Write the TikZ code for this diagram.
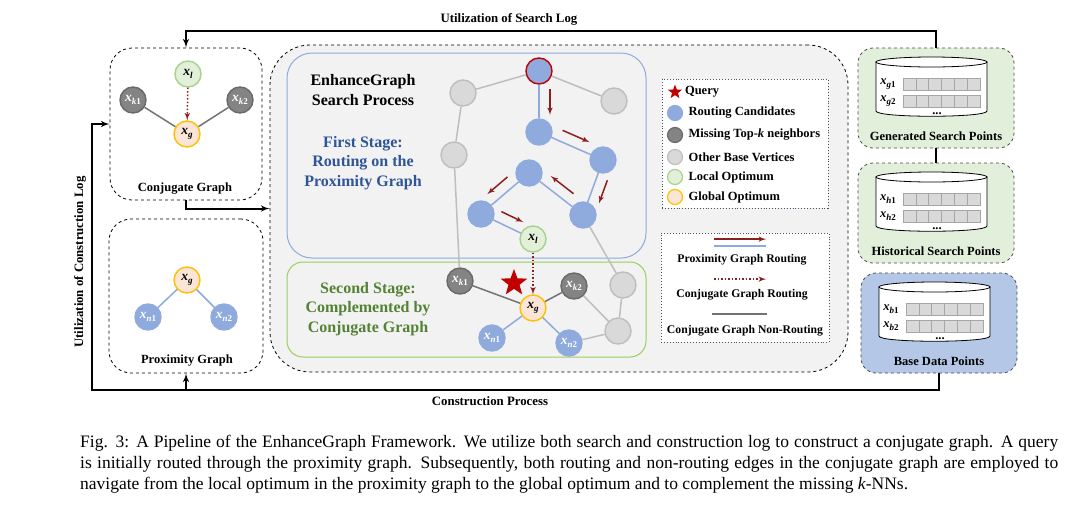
\documentclass[tikz,border=0pt]{standalone}
\usepackage{fontspec}
\setmainfont{Liberation Serif}
\usetikzlibrary{positioning,arrows,calc,shapes.geometric}

\definecolor{candblue}{RGB}{143,170,220}
\definecolor{missgray}{RGB}{132,132,132}
\definecolor{missline}{RGB}{105,105,105}
\definecolor{basegray}{RGB}{217,217,217}
\definecolor{baseedge}{RGB}{190,190,190}
\definecolor{locfill}{RGB}{226,240,217}
\definecolor{locline}{RGB}{169,209,142}
\definecolor{globfill}{RGB}{251,229,214}
\definecolor{globline}{RGB}{255,192,0}
\definecolor{routered}{RGB}{140,30,30}
\definecolor{starred}{RGB}{192,0,0}
\definecolor{stageblue}{RGB}{47,85,151}
\definecolor{stagegreen}{RGB}{84,130,53}
\definecolor{boxgreen}{RGB}{150,208,90}
\definecolor{panelgray}{RGB}{242,242,242}
\definecolor{genfill}{RGB}{226,239,218}
\definecolor{basefill}{RGB}{180,199,231}
\definecolor{legline}{RGB}{68,84,106}

\newcommand{\vx}[2]{{\bfseries\itshape x\raisebox{-.5ex}{\fontsize{9}{10}\selectfont #1\upshape #2}}}
\newcommand{\route}[3]{\draw[route] ($(#1)!0.3!(#2)!11pt!#3:(#2)$) -- ($(#1)!0.72!(#2)!11pt!#3:(#2)$);}

\begin{document}
\begin{tikzpicture}[x=1pt,y=-1pt,>=latex',
  font=\bfseries\fontsize{12.5}{14}\selectfont,
  vtx/.style={circle,minimum size=26pt,inner sep=0pt,line width=1.4pt,font=\fontsize{13.5}{14}\selectfont},
  cand/.style={vtx,fill=candblue,draw=candblue,text=white},
  miss/.style={vtx,fill=missgray,draw=missline,text=white},
  basev/.style={vtx,fill=basegray,draw=baseedge},
  loc/.style={vtx,fill=locfill,draw=locline},
  glob/.style={vtx,fill=globfill,draw=globline},
  keydot/.style={circle,minimum size=15pt,inner sep=0pt,line width=1.2pt},
  dbox/.style={draw,dashed,rounded corners=22pt,line width=.8pt,minimum width=152pt,minimum height=152pt},
  store/.style={draw=black!70,dashed,rounded corners=15pt,line width=.8pt,minimum width=156pt,minimum height=100pt},
  heading/.style={align=center,font=\bfseries\fontsize{16}{19.5}\selectfont},
  railtext/.style={font=\bfseries\fontsize{12.8}{14}\selectfont},
  keytext/.style={font=\bfseries\fontsize{11.7}{13}\selectfont},
  conn/.style={line width=2pt},
  blueedge/.style={draw=candblue,line width=1.5pt},
  grayedge/.style={draw=baseedge,line width=1.5pt},
  nonroute/.style={draw=black!55,line width=1.5pt},
  route/.style={draw=routered,line width=1.5pt,->},
  conjroute/.style={draw=routered,line width=1.5pt,dotted,->},
  cell/.style={fill=basegray,draw=black!35,line width=.6pt},
  caption/.style={anchor=base west,inner sep=0pt,align=left,font=\mdseries\fontsize{17.5}{21}\selectfont}]

\path[use as bounding box,fill=white] (0,0) rectangle (1073,504);

% left boxes
\node[dbox] (conj) at (186,124) {};
\node (conjlbl) at (185,189) {Conjugate Graph};
\node[loc] (cl) at (188,74) {\vx{l}{}};
\node[miss] (ck1) at (133,100) {\vx{k}{1}};
\node[miss] (ck2) at (240,100) {\vx{k}{2}};
\node[glob] (cg) at (187,134) {\vx{g}{}};
\path[nonroute] (ck1) edge (cg) (ck2) edge (cg);
\draw[conjroute] (cl) -- (cg);

\node[dbox,minimum width=154pt,minimum height=154pt] (prox) at (186,296) {};
\node (proxlbl) at (187,361) {Proximity Graph};
\node[glob] (pg) at (187,280) {\vx{g}{}};
\node[cand] (pn1) at (148,317) {\vx{n}{1}};
\node[cand] (pn2) at (224,317) {\vx{n}{2}};
\path[blueedge] (pg) edge (pn1) edge (pn2);

% search process
\node[draw,dashed,fill=panelgray,rounded corners=40pt,line width=.8pt,minimum width=578pt,minimum height=327pt] (main) at (559,208.5) {};
\node[draw=candblue,rounded corners=25pt,line width=1pt,minimum width=359pt,minimum height=205pt] (stageone) at (466.5,155.5) {};
\node[draw=boxgreen,rounded corners=16pt,line width=1pt,minimum width=359pt,minimum height=95pt] (stagetwo) at (466.5,309.5) {};
\node[heading] (head) at (363,90) {EnhanceGraph\\Search Process};
\node[heading,text=stageblue] (onetxt) at (363,163) {First Stage:\\Routing on the\\Proximity Graph};
\node[heading,text=stagegreen] (twotxt) at (368,309) {Second Stage:\\Complemented by\\Conjugate Graph};

\node[cand,draw=starred] (top) at (539,71) {};
\node[basev] (g1) at (463,93) {};
\node[basev] (g2) at (614,101) {};
\node[basev] (g3) at (454,155) {};
\node[basev] (g4) at (623,285) {};
\node[basev] (g5) at (618,331) {};
\node[cand] (b1) at (539,132) {};
\node[cand] (b2) at (603,160) {};
\node[cand] (b3) at (529,173) {};
\node[cand] (b4) at (481,214) {};
\node[cand] (b5) at (583,215) {};
\node[loc] (xl) at (533,239) {\vx{l}{}};
\node[miss] (k1) at (460,281) {\vx{k}{1}};
\node[miss] (k2) at (574,286) {\vx{k}{2}};
\node[glob] (xg) at (533,308) {\vx{g}{}};
\node[cand] (n1) at (492,338) {\vx{n}{1}};
\node[cand] (n2) at (569,343) {\vx{n}{2}};
\node[star,star points=5,star point ratio=2.4,fill=starred,minimum size=28pt,inner sep=0pt] (query) at (514,283) {};

\path[grayedge] (top) edge (g1) edge (g2)
  (g1) edge (g3) (g3) edge (k1)
  (b5) edge (g4) (g4) edge (g5) (g5) edge (n2) (k2) edge (g5);
\path[blueedge] (top) edge (b1) (b1) edge (b2) (b2) edge (b5)
  (b5) edge (b3) (b3) edge (b4) (b4) edge (xl)
  (xg) edge (n1) edge (n2);
\path[nonroute] (k1) edge (xg) (k2) edge (xg);
\draw[conjroute] (xl) -- (xg);
\route{top}{b1}{90}
\route{b1}{b2}{90}
\route{b2}{b5}{90}
\route{b5}{b3}{-90}
\route{b3}{b4}{-90}
\route{b4}{xl}{90}

% legends
\node[draw=legline,dotted,fill=white,line width=.9pt,minimum width=166pt,minimum height=129pt] (keyone) at (745,143.5) {};
\node[star,star points=5,star point ratio=2.4,fill=starred,minimum size=15pt,inner sep=0pt] (kq) at (675,92) {};
\node[keydot,fill=candblue,draw=candblue] (kc) at (675,113) {};
\node[keydot,fill=missgray,draw=missline] (km) at (675,135) {};
\node[keydot,fill=basegray,draw=baseedge] (kb) at (675,157) {};
\node[keydot,fill=locfill,draw=locline] (kl) at (675,177) {};
\node[keydot,fill=globfill,draw=globline] (kg) at (675,197) {};
\node[right=2pt of kq] {Query};
\node[right=2pt of kc] {Routing Candidates};
\node[right=2pt of km] {Missing Top-\textit{k} neighbors};
\node[right=2pt of kb] {Other Base Vertices};
\node[right=2pt of kl] {Local Optimum};
\node[right=2pt of kg] {Global Optimum};

\node[draw=legline,dotted,fill=white,line width=.9pt,minimum width=168pt,minimum height=109pt] (keytwo) at (745,287.5) {};
\node[keytext] (lpr) at (742,260) {Proximity Graph Routing};
\node[keytext] (lcr) at (742,295) {Conjugate Graph Routing};
\node[keytext] (lnr) at (745,331) {Conjugate Graph Non-Routing};
\draw[route] ($(lpr.north)+(-28,-12)$) -- ++(52,0);
\draw[blueedge] ($(lpr.north)+(-28,-5)$) -- ++(52,0);
\draw[conjroute] ($(lcr.north)+(-28,-7)$) -- ++(52,0);
\draw[nonroute] ($(lnr.north)+(-33,-8)$) -- ++(55,0);

% data stores
\foreach \nm/\dx/\dy/\fc/\sb/\lb in {gen/0/0/genfill/g/Generated Search Points,
    hist/0/115/genfill/h/Historical Search Points, base/3/225/basefill/b/Base Data Points}{
  \begin{scope}[shift={(\dx,\dy)}]
    \node[store,fill=\fc] (\nm) at (936,98) {};
    \filldraw[fill=white,line width=.8pt] (876,62) -- (876,111) .. controls (876,118) and (987,118) .. (987,111) -- (987,62) -- cycle;
    \filldraw[fill=white,line width=.8pt] (931.5,62) ellipse [x radius=55.5pt,y radius=5pt];
    \foreach \i in {0,...,5}{
      \draw[cell] (903+12.8*\i,78.5) rectangle ++(12.8,12);
      \draw[cell] (903+12.8*\i,95.5) rectangle ++(12.8,12);
    }
    \node[font=\fontsize{12.5}{13}\selectfont] at (888,84) {\vx{\sb}{1}};
    \node[font=\fontsize{12.5}{13}\selectfont] at (888,101) {\vx{\sb}{2}};
    \node[anchor=base] at (937,114) {...};
    \node at (936,136) {\lb};
  \end{scope}
}

% rails
\coordinate (toprail) at (0,31);
\coordinate (botrail) at (92,390);
\draw[conn,->] (gen.north) |- (toprail -| conj.north) -- (conj.north);
\draw[conn,->] (base.south) |- (botrail) |- (conj.west);
\draw[conn,->] (botrail -| prox.south) -- (prox.south);
\draw[conn,->] (conj.south) |- (main.west);
\draw[conn] (gen.south) -- (hist.north);
\node[railtext] (slog) at (509,19) {Utilization of Search Log};
\node[railtext] (cproc) at (490,401) {Construction Process};
\node[railtext,rotate=90] (clog) at (80,262) {Utilization of Construction Log};

% caption
\node[caption] (cap) at (80,489) {\makebox[978pt][s]{Fig. 3: A Pipeline of the EnhanceGraph Framework. We utilize both search and construction log to construct a conjugate graph. A query}\\
\makebox[978pt][s]{is initially routed through the proximity graph. Subsequently, both routing and non-routing edges in the conjugate graph are employed to}\\
navigate from the local optimum in the proximity graph to the global optimum and to complement the missing \textit{k}-NNs.};
\end{tikzpicture}
\end{document}
